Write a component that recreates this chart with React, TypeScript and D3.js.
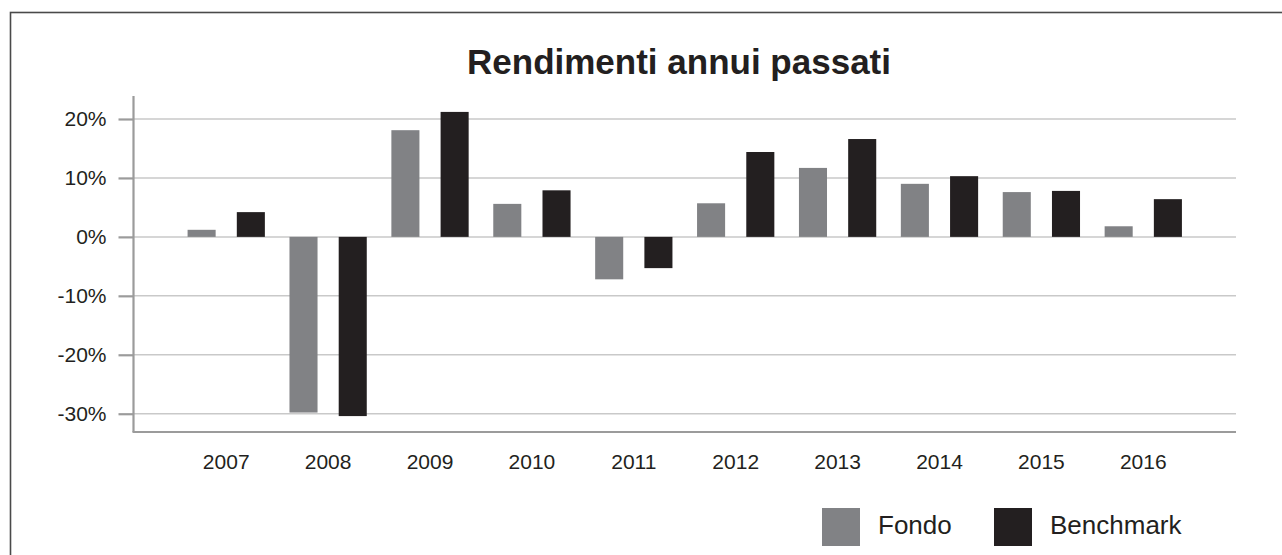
import React, { useEffect, useRef } from "react";
import * as d3 from "d3";

const years = ["2007", "2008", "2009", "2010", "2011", "2012", "2013", "2014", "2015", "2016"];
const fondo = [1.2, -29.8, 18.1, 5.6, -7.2, 5.7, 11.7, 9.0, 7.6, 1.8];
const benchmark = [4.2, -30.4, 21.2, 7.9, -5.3, 14.4, 16.6, 10.3, 7.8, 6.4];
const seriesNames = ["Fondo", "Benchmark"];
const seriesColors = ["#818285", "#231f20"];
const yTicks = [-30, -20, -10, 0, 10, 20];

const FONT = "'Liberation Sans', Arial, Helvetica, sans-serif";

export default function App() {
  const ref = useRef<SVGSVGElement>(null);

  useEffect(() => {
    const width = 1282;
    const height = 555;
    const svg = d3.select(ref.current);
    svg.selectAll("*").remove();

    const left = 133.5;
    const right = 1236;
    const top = 96;
    const bottom = 432;

    // outer frame, runs off the right and bottom edge
    svg.append("rect")
      .attr("x", 10.5).attr("y", 12.5)
      .attr("width", width).attr("height", height)
      .attr("fill", "#fff")
      .attr("stroke", "#4a4a4a")
      .attr("stroke-width", 1.6);

    const x = d3.scaleBand<string>()
      .domain(years)
      .range([left, right])
      .paddingInner(0)
      .paddingOuter(0.41);

    const xSub = d3.scaleBand<string>()
      .domain(seriesNames)
      .range([0, x.bandwidth()])
      .paddingInner(0.43)
      .paddingOuter(0.25);

    const y = d3.scaleLinear()
      .domain([-33.1, 23.9])
      .range([bottom, top]);

    // grid lines
    svg.append("g")
      .selectAll("line")
      .data(yTicks)
      .enter()
      .append("line")
      .attr("x1", left).attr("x2", right)
      .attr("y1", (d) => y(d)).attr("y2", (d) => y(d))
      .attr("stroke", "#c9c9c9")
      .attr("stroke-width", 1.5);

    // bars
    const data = [fondo, benchmark];
    data.forEach((vals, s) => {
      svg.append("g")
        .selectAll("rect")
        .data(vals)
        .enter()
        .append("rect")
        .attr("x", (d, i) => (x(years[i]) as number) + (xSub(seriesNames[s]) as number))
        .attr("y", (d) => y(Math.max(0, d)))
        .attr("width", xSub.bandwidth())
        .attr("height", (d) => Math.abs(y(d) - y(0)))
        .attr("fill", seriesColors[s]);
    });

    // y axis
    const yAxis = svg.append("g")
      .attr("transform", `translate(${left}, 0)`)
      .call(
        d3.axisLeft(y)
          .tickValues(yTicks)
          .tickSize(15)
          .tickPadding(12)
          .tickFormat((d) => `${d}%`)
      );
    yAxis.select(".domain")
      .attr("d", `M0,${top}V${bottom}`)
      .attr("stroke", "#9b9b9b")
      .attr("stroke-width", 2.2);
    yAxis.selectAll(".tick line").attr("stroke", "#9b9b9b").attr("stroke-width", 2.2);
    yAxis.selectAll(".tick text")
      .attr("fill", "#231f20")
      .style("font-family", FONT)
      .style("font-size", "21px");

    // x axis
    const xAxis = svg.append("g")
      .attr("transform", `translate(0, ${bottom})`)
      .call(d3.axisBottom(x).tickSize(0).tickPadding(22));
    xAxis.select(".domain")
      .attr("d", `M${left - 1},0H${right}`)
      .attr("stroke", "#9b9b9b")
      .attr("stroke-width", 2.2);
    xAxis.selectAll(".tick text")
      .attr("fill", "#231f20")
      .style("font-family", FONT)
      .style("font-size", "21px");

    // title
    svg.append("text")
      .text("Rendimenti annui passati")
      .attr("x", 679)
      .attr("y", 74)
      .attr("text-anchor", "middle")
      .attr("fill", "#231f20")
      .style("font-family", FONT)
      .style("font-weight", "bold")
      .style("font-size", "35px");

    // legend
    const legendX = [822, 994];
    seriesNames.forEach((name, i) => {
      svg.append("rect")
        .attr("x", legendX[i]).attr("y", 508)
        .attr("width", 38).attr("height", 38)
        .attr("fill", seriesColors[i]);
      svg.append("text")
        .text(name)
        .attr("x", legendX[i] + 56)
        .attr("y", 534)
        .attr("fill", "#231f20")
        .style("font-family", FONT)
        .style("font-size", "26px");
    });
  }, []);

  return (
    <svg
      ref={ref}
      width={1282}
      height={555}
      style={{ position: "absolute", left: 0, top: 0, background: "#fff" }}
    />
  );
}
